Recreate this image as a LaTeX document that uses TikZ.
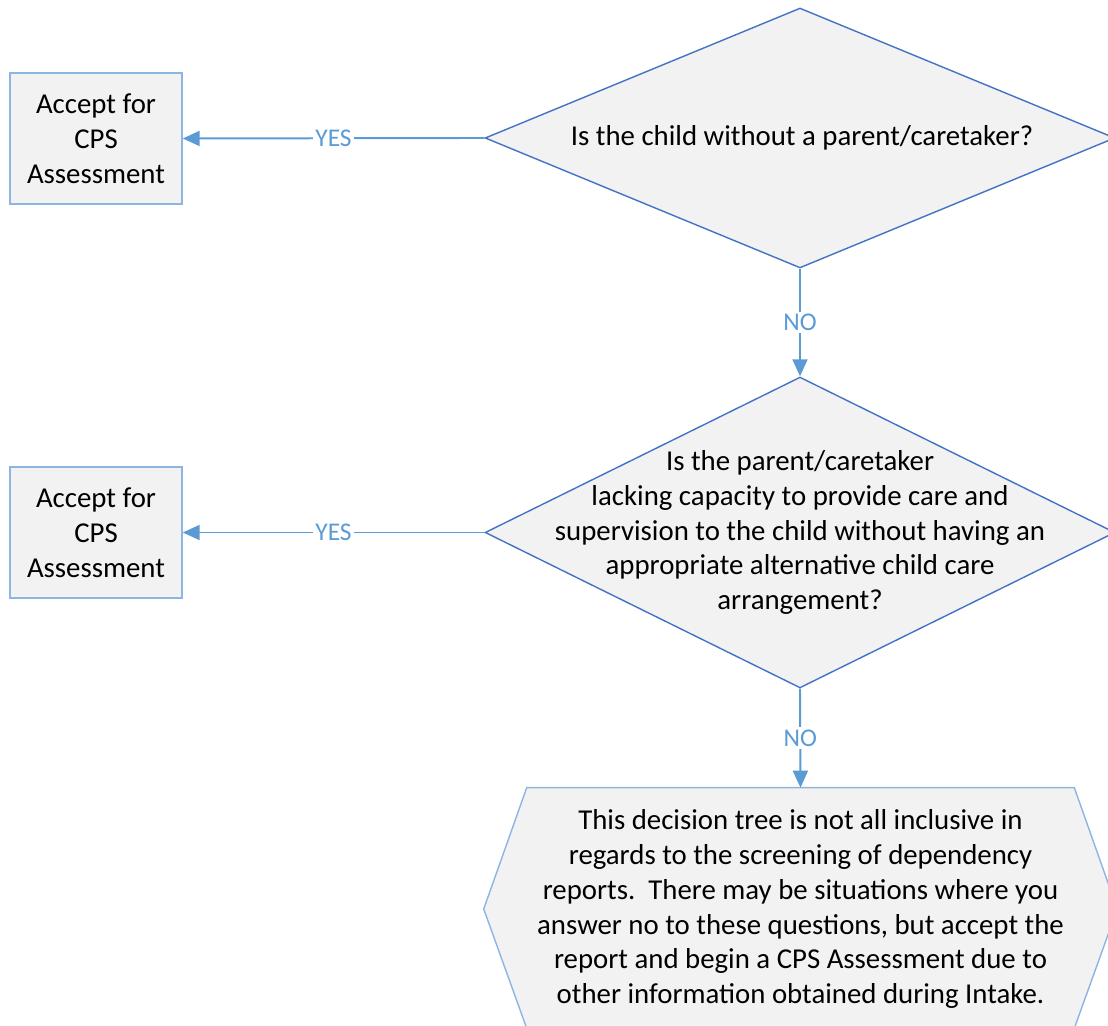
\documentclass[tikz,border=0pt]{standalone}
\usepackage{fontspec}
\setmainfont{Carlito}
\usetikzlibrary{shapes.geometric,arrows.meta,backgrounds}

\definecolor{shapefill}{HTML}{F2F2F2}
\definecolor{diamondline}{HTML}{4472C4}
\definecolor{boxline}{HTML}{8EB4E3}
\definecolor{flowline}{HTML}{5B9BD5}

\tikzset{
  decision/.style={diamond, draw=diamondline, fill=shapefill, line width=0.8pt,
    inner sep=0pt, minimum width=12.6cm},
  acceptbox/.style={rectangle, draw=boxline, fill=shapefill, line width=0.8pt,
    minimum width=3.44cm, minimum height=2.62cm, align=center,
    font=\fontsize{16.4}{19.9}\selectfont},
  question/.style={align=center, font=\fontsize{16.4}{19.9}\selectfont},
  edgelabel/.style={fill=white, inner sep=1.5pt, text=flowline,
    font=\fontsize{14.5}{16}\selectfont},
  flow/.style={draw=flowline, line width=1.1pt, -{Triangle[length=0.34cm,width=0.3cm]}}
}

\begin{document}
\begin{tikzpicture}[x=0.02cm, y=-0.02cm]
    \useasboundingbox (0, 0) rectangle (1108, 1026);
    \clip (0, 0) rectangle (1108, 1026);

    \node[acceptbox] (accept1) at (96, 138.5) {Accept for\\CPS\\Assessment};
    \node[acceptbox] (accept2) at (96, 532.5) {Accept for\\CPS\\Assessment};

    \node[decision, minimum height=5.2cm] (q1) at (800, 138) {};
    \node[question] (q1text) at (802, 138) {Is the child without a parent/caretaker?};

    \node[decision, minimum height=6.22cm] (q2) at (800, 532.5) {};
    \node[question] (q2text) at (800, 532.5)
      {Is the parent/caretaker\\
       lacking capacity to provide care and\\
       supervision to the child without having an\\
       appropriate alternative child care\\
       arrangement?};

    \node[question, minimum width=10.94cm, minimum height=4.76cm, inner sep=0pt]
      (note) at (800.5, 909)
      {This decision tree is not all inclusive in\\
       regards to the screening of dependency\\
       reports.\ \ There may be situations where you\\
       answer no to these questions, but accept the\\
       report and begin a CPS Assessment due to\\
       other information obtained during Intake.};
    \begin{pgfonlayer}{background}
      \draw[draw=boxline, fill=shapefill, line width=0.8pt]
        ([yshift=0.04cm]note.north west) --
        ([yshift=0.04cm]note.north east) --
        ([xshift=0.86cm]note.east) --
        (note.south east) --
        (note.south west) --
        ([xshift=-0.86cm]note.west) -- cycle;
    \end{pgfonlayer}

    \draw[flow] (q1.west) -- node[edgelabel]{YES} (accept1.east);
    \draw[flow] (q2.west) -- node[edgelabel]{YES} (accept2.east);
    \draw[flow] (q1.south) -- node[edgelabel]{NO} (q2.north);
    \draw[flow] (q2.south) -- node[edgelabel]{NO} ([yshift=0.04cm]note.north);
\end{tikzpicture}
\end{document}
